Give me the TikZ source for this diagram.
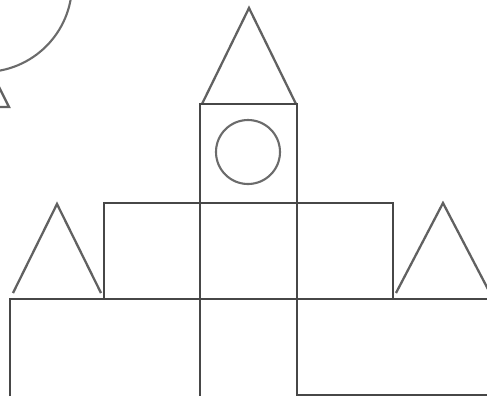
\documentclass[tikz,border=0pt]{standalone}
\tikzset{
  wall/.style={draw=black!72, line width=0.75pt},
  roof/.style={draw=black!62, line width=0.65pt, line join=miter},
  orb/.style={draw=black!58, line width=0.6pt}
}
\begin{document}
\begin{tikzpicture}[x=0.01cm, y=-0.01cm]
\useasboundingbox (0,0) rectangle (487,396);
\clip (0,0) rectangle (487,396);
% sun and the corner of a roof, top left
\draw[orb] (-16,-16) circle (88);
\draw[roof] (-35,19) -- (9,107) -- (-80,107);
% tower with its roof and window
\draw[roof] (202,104) -- (249,8) -- (296,104);
\draw[wall] (200,104) rectangle (297,203);
\draw[orb] (248,152) circle (32);
% middle row
\foreach \xa/\xb in {104/200, 200/297, 297/393}
  \draw[wall] (\xa,203) rectangle (\xb,299);
% side roofs
\draw[roof] (13,293) -- (57,204) -- (101,293);
\draw[roof] (396,293) -- (443,203) -- (490,293);
% bottom row
\draw[wall] (10,396) -- (10,299) -- (487,299);
\foreach \xa in {200, 297}
  \draw[wall] (\xa,299) -- (\xa,396);
\draw[wall] (297,395) -- (487,395);
\end{tikzpicture}
\end{document}
